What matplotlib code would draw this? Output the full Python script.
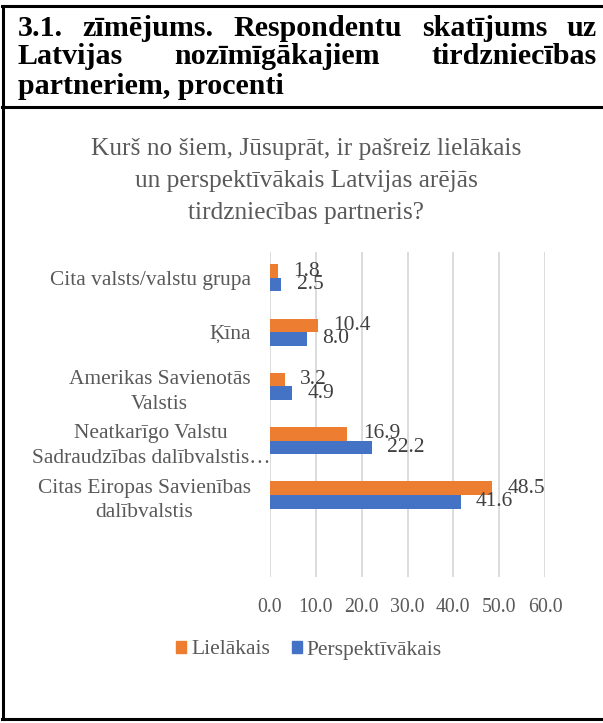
import matplotlib
matplotlib.use("Agg")
import matplotlib.pyplot as plt
import matplotlib.transforms as mtransforms
from matplotlib.lines import Line2D
from matplotlib.patches import Patch
import numpy as np

plt.rcParams['font.family'] = ['Liberation Serif', 'DejaVu Serif']

# data (top to bottom as in the picture)
categories = ["Cita valsts/valstu grupa", "Ķīna", "Amerikas Savienotās\nValstis",
              "Neatkarīgo Valstu\nSadraudzības dalībvalstis…",
              "Citas Eiropas Savienības\ndalībvalstis"]
lielakais = [1.8, 10.4, 3.2, 16.9, 48.5]
perspektivakais = [2.5, 8.0, 4.9, 22.2, 41.6]
xticks = [0, 10, 20, 30, 40, 50, 60]

ORANGE = "#ED7D31"
BLUE = "#4472C4"
GREY = "#595959"

W, H = 603, 723
fig = plt.figure(figsize=(W / 100, H / 100), dpi=100)

def px(x, y):
    return x / W, 1 - y / H

# frame of the figure box
for xs, ys in [((2, 603), (6, 6)), ((2, 603), (107, 107)), ((2, 603), (719, 719)), ((3, 3), (6, 719))]:
    fig.add_artist(Line2D([x / W for x in xs], [1 - y / H for y in ys], color="black", lw=2.2,
                          transform=fig.transFigure))

# header with justified lines
head_lines = [["3.1.", "zīmējums.", "Respondentu", "skatījums", "uz"],
              ["Latvijas", "nozīmīgākajiem", "tirdzniecības"]]
head_y = [28, 57]
x_left, x_right = 18, 597
fig.canvas.draw()
r = fig.canvas.get_renderer()
for words, y in zip(head_lines, head_y):
    texts = [fig.text(0, 1 - y / H, w, fontsize=21.6, fontweight="bold", va="center") for w in words]
    widths = [t.get_window_extent(renderer=r).width for t in texts]
    gap = (x_right - x_left - sum(widths)) / (len(words) - 1)
    x = x_left
    for t, wdt in zip(texts, widths):
        t.set_x(x / W)
        x += wdt + gap
fig.text(x_left / W, 1 - 87 / H, "partneriem, procenti", fontsize=21.6, fontweight="bold", va="center")

# chart title
fig.text(306 / W, 1 - 181 / H,
         "Kurš no šiem, Jūsuprāt, ir pašreiz lielākais\nun perspektīvākais Latvijas arējās\ntirdzniecības partneris?",
         ha="center", va="center", fontsize=18.3, color=GREY, linespacing=1.58)

# bar chart
ax = fig.add_axes([270 / W, 1 - 577 / H, (545 - 270) / W, (577 - 252) / H])
pos = np.arange(len(categories))[::-1]
h = 0.25
b1 = ax.barh(pos + h / 2, lielakais, height=h, color=ORANGE)
b2 = ax.barh(pos - h / 2, perspektivakais, height=h, color=BLUE)
for bars, vals in [(b1, lielakais), (b2, perspektivakais)]:
    for bar, v in zip(bars, vals):
        ax.annotate(f"{v:.1f}", (bar.get_width(), bar.get_y() + bar.get_height() / 2),
                    xytext=(11, 0), textcoords="offset points", va="center", ha="left",
                    fontsize=15.5, color="#404040")

ax.set_xlim(0, 60)
ax.set_ylim(-1.51, 4.475)
ax.set_xticks(xticks)
ax.set_xticklabels([f"{t:.1f}" for t in xticks], fontsize=14.3, color=GREY)
ax.set_yticks(pos)
ax.set_yticklabels(categories, fontsize=15.4, color=GREY, multialignment="center", linespacing=1.42)
ax.tick_params(axis="both", length=0)
ax.tick_params(axis="y", pad=14)
ax.tick_params(axis="x", pad=15)
ax.grid(axis="x", color="#D9D9D9", lw=1.3)
ax.set_axisbelow(True)
for s in ax.spines.values():
    s.set_visible(False)

# the long CIS label runs past the label area, up to the zero line
lab = ax.get_yticklabels()[3]
lab.set_transform(lab.get_transform() + mtransforms.ScaledTranslation(20 / 100, 0, fig.dpi_scale_trans))

handles = [Patch(color=ORANGE, label="Lielākais"), Patch(color=BLUE, label="Perspektīvākais")]
fig.legend(handles=handles, loc="center", bbox_to_anchor=px(309, 650), ncol=2, frameon=False,
           fontsize=15.5, handlelength=0.45, handleheight=0.45, handletextpad=0.25, columnspacing=1.02,
           labelcolor=GREY)

fig.savefig("out.png", dpi=100)
